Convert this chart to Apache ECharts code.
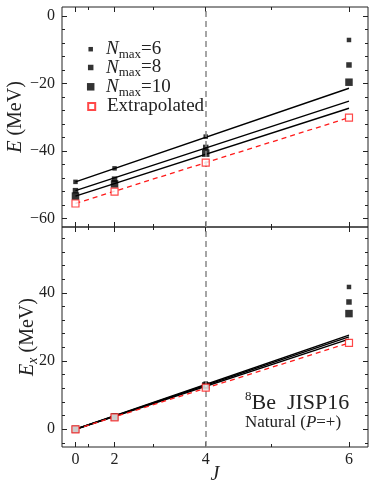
<!DOCTYPE html>
<html>
<head>
<meta charset="utf-8">
<script src="https://cdn.jsdelivr.net/npm/echarts@6/dist/echarts.min.js"></script>
<style>
  html, body { margin: 0; padding: 0; background: #fff; }
  #chart { width: 369px; height: 483px; }
</style>
</head>
<body>
<div id="chart"></div>
<script>
// angular momentum J; the x axis is linear in J(J+1)
const J = [0, 2, 4, 6];
const jMajor = [0, 2, 4, 6];
const jMinor = [1, 3, 5];
const jFit = [0, 6];

// total energy E (MeV)
const E6 = [-49.1, -45.1, -35.7, -7.1];
const E8 = [-51.7, -48.3, -38.9, -14.5];
const E10 = [-53.3, -49.7, -40.6, -19.6];
const Eext = [-55.5, -52.0, -43.4, -30.1];
const fitE6 = [-49.1, -21.4];
const fitE8 = [-51.7, -25.2];
const fitE10 = [-53.3, -27.3];
const fitEext = [-55.5, -30.1];

// excitation energy Ex (MeV)
const Ex6 = [0, 4.0, 13.4, 41.7];
const Ex8 = [0, 3.4, 12.8, 37.3];
const Ex10 = [0, 3.6, 12.7, 33.9];
const Exext = [0, 3.5, 12.2, 25.3];
const fitEx6 = [0, 27.6];
const fitEx8 = [0, 27.1];
const fitEx10 = [0, 26.4];
const fitExext = [0, 25.3];

const ticksE = [-60, -40, -20, 0];
const ticksEx = [0, 20, 40];

const FONT = "Liberation Serif";
const INK = "#222";
const RED = "#ff1a1a";
const jj = (j) => j * (j + 1);
const xRange = [-2.07, 44.92];
const yRanges = [[-62.46, 2.66], [-5.19, 59.27]];

function minorY(range) {
  const out = [];
  for (let v = Math.ceil(range[0] / 4) * 4; v <= range[1]; v += 4) {
    if (v % 20 !== 0) out.push(v);
  }
  return out;
}

const fmtNum = (v) => (v < 0 ? "\u2212" + (-v) : String(v));
const xLabel = (v) => String(J[J.map(jj).indexOf(v)]);
const noLine = { show: false, onZero: false };

const xAxes = [];
const yAxes = [];
[0, 1].forEach((g) => {
  ["bottom", "top"].forEach((pos) => {
    const labels = g === 1 && pos === "bottom";
    xAxes.push({
      type: "value", gridIndex: g, position: pos, min: xRange[0], max: xRange[1],
      axisLine: noLine, splitLine: { show: false },
      axisTick: { inside: true, length: 5, customValues: jMajor.map(jj), lineStyle: { color: INK, width: 1 } },
      axisLabel: {
        show: labels, customValues: jMajor.map(jj), formatter: xLabel, margin: 5,
        fontFamily: FONT, fontSize: 16, color: INK,
      },
      name: labels ? "J" : "", nameLocation: "middle", nameGap: 18, nameMoveOverlap: false,
      nameTextStyle: { fontFamily: FONT, fontSize: 20, fontStyle: "italic", color: INK },
    });
    xAxes.push({
      type: "value", gridIndex: g, position: pos, min: xRange[0], max: xRange[1],
      axisLine: noLine, splitLine: { show: false }, axisLabel: { show: false },
      axisTick: { inside: true, length: 3, customValues: jMinor.map(jj), lineStyle: { color: INK, width: 1 } },
    });
  });
  ["left", "right"].forEach((pos) => {
    const labels = pos === "left";
    const range = yRanges[g];
    const major = g === 0 ? ticksE : ticksEx;
    yAxes.push({
      type: "value", gridIndex: g, position: pos, min: range[0], max: range[1],
      axisLine: noLine, splitLine: { show: false },
      axisTick: { inside: true, length: 5, customValues: major, lineStyle: { color: INK, width: 1 } },
      axisLabel: {
        show: labels, customValues: major, formatter: fmtNum, margin: 7,
        fontFamily: FONT, fontSize: 16, color: INK,
      },
      name: !labels ? "" : g === 0 ? "{i|E} {t|(MeV)}" : "{i|E}{s|x} {t|(MeV)}",
      nameLocation: "middle", nameRotate: 90, nameGap: g === 0 ? 34 : 22, nameMoveOverlap: false,
      nameTextStyle: {
        fontFamily: FONT, fontSize: 20, color: INK,
        rich: {
          i: { fontFamily: FONT, fontSize: 20, fontStyle: "italic", color: INK, lineHeight: 24, verticalAlign: "middle" },
          t: { fontFamily: FONT, fontSize: 20, color: INK, lineHeight: 24, verticalAlign: "middle" },
          s: { fontFamily: FONT, fontSize: 14, fontStyle: "italic", color: INK, lineHeight: 17, verticalAlign: "bottom" },
        },
      },
    });
    yAxes.push({
      type: "value", gridIndex: g, position: pos, min: range[0], max: range[1],
      axisLine: noLine, splitLine: { show: false }, axisLabel: { show: false },
      axisTick: { inside: true, length: 3, customValues: minorY(range), lineStyle: { color: INK, width: 1 } },
    });
  });
});

const sets = [
  { pts: [E6, E8, E10, Eext], fits: [fitE6, fitE8, fitE10, fitEext] },
  { pts: [Ex6, Ex8, Ex10, Exext], fits: [fitEx6, fitEx8, fitEx10, fitExext] },
];
const names = ["N6", "N8", "N10", "Ext"];
const sizes = [4.5, 5.5, 7.5, 7];

const series = [];
sets.forEach((set, g) => {
  const ax = { xAxisIndex: g * 4, yAxisIndex: g * 4 };
  set.fits.forEach((fit, k) => {
    const ext = k === 3;
    series.push({
      type: "line", ...ax, name: "fit" + k, z: 2, silent: true,
      showSymbol: false, symbol: "none",
      data: jFit.map((j, i) => [jj(j), fit[i]]),
      lineStyle: ext ? { color: RED, width: 1.3, type: [5, 4] } : { color: "#000", width: 1.4 },
      markLine: ext ? {
        silent: true, symbol: ["none", "none"], label: { show: false },
        lineStyle: { color: "#888", width: 1.5, type: [6, 4] },
        data: [{ xAxis: jj(4) }],
      } : undefined,
    });
  });
  set.pts.forEach((vals, k) => {
    const ext = k === 3;
    series.push({
      type: "scatter", ...ax, name: names[k], z: ext ? 5 : 4,
      symbol: "rect", symbolSize: sizes[k],
      data: J.map((j, i) => [jj(j), vals[i]]),
      itemStyle: ext ? { color: "#fff", borderColor: RED, borderWidth: 1.2 } : { color: "#000" },
    });
  });
});

const SQ = "path://M0,0h10v10h-10z";
const legendText = {
  N6: "{w| }{i|N}{s|max}{t|=6}",
  N8: "{w| }{i|N}{s|max}{t|=8}",
  N10: "{w| }{i|N}{s|max}{t|=10}",
  Ext: "{w| }{t|Extrapolated}",
};
const legendX = 90.7;
const legendTextX = 106;
const legendY = [51.7, 70, 89.3, 109];
const legends = names.map((n, k) => ({
  data: [{ name: n, icon: SQ }],
  left: legendX - sizes[k] / 2, top: legendY[k] - 12, padding: 0,
  itemWidth: sizes[k], itemHeight: sizes[k], selectedMode: false,
  formatter: (name) => legendText[name],
  textStyle: {
    fontFamily: FONT, fontSize: 19, color: INK,
    rich: {
      w: { width: legendTextX - (legendX + sizes[k] / 2 + 5), fontSize: 19, lineHeight: 24 },
      i: { fontFamily: FONT, fontSize: 19, fontStyle: "italic", color: INK, lineHeight: 24, verticalAlign: "middle" },
      t: { fontFamily: FONT, fontSize: 19, color: INK, lineHeight: 24, verticalAlign: "middle" },
      s: { fontFamily: FONT, fontSize: 13, color: INK, lineHeight: 16, verticalAlign: "bottom" },
    },
  },
}));

const chart = echarts.init(document.getElementById("chart"));
chart.setOption({
  animation: false,
  backgroundColor: "#fff",
  grid: [
    { left: 62, top: 7, width: 306, height: 220, show: true, borderColor: INK, borderWidth: 1, outerBoundsMode: "none", containLabel: false },
    { left: 62, top: 227, width: 306, height: 220, show: true, borderColor: INK, borderWidth: 1, outerBoundsMode: "none", containLabel: false },
  ],
  xAxis: xAxes,
  yAxis: yAxes,
  legend: legends,
  title: [
    {
      text: "{sup|8}{b|Be  JISP16}", left: 245, top: 390, padding: 0,
      textStyle: {
        fontWeight: "normal",
        rich: {
          sup: { fontFamily: FONT, fontSize: 13, fontWeight: "normal", color: INK, lineHeight: 12, verticalAlign: "top" },
          b: { fontFamily: FONT, fontSize: 22, fontWeight: "normal", color: INK, lineHeight: 26, verticalAlign: "middle" },
        },
      },
    },
    {
      text: "{t|Natural (}{i|P}{t|=+)}", left: 245, top: 413, padding: 0,
      textStyle: {
        fontWeight: "normal",
        rich: {
          t: { fontFamily: FONT, fontSize: 17, fontWeight: "normal", color: INK, lineHeight: 20 },
          i: { fontFamily: FONT, fontSize: 17, fontWeight: "normal", fontStyle: "italic", color: INK, lineHeight: 20 },
        },
      },
    },
  ],
  series: series,
});
</script>
</body>
</html>
